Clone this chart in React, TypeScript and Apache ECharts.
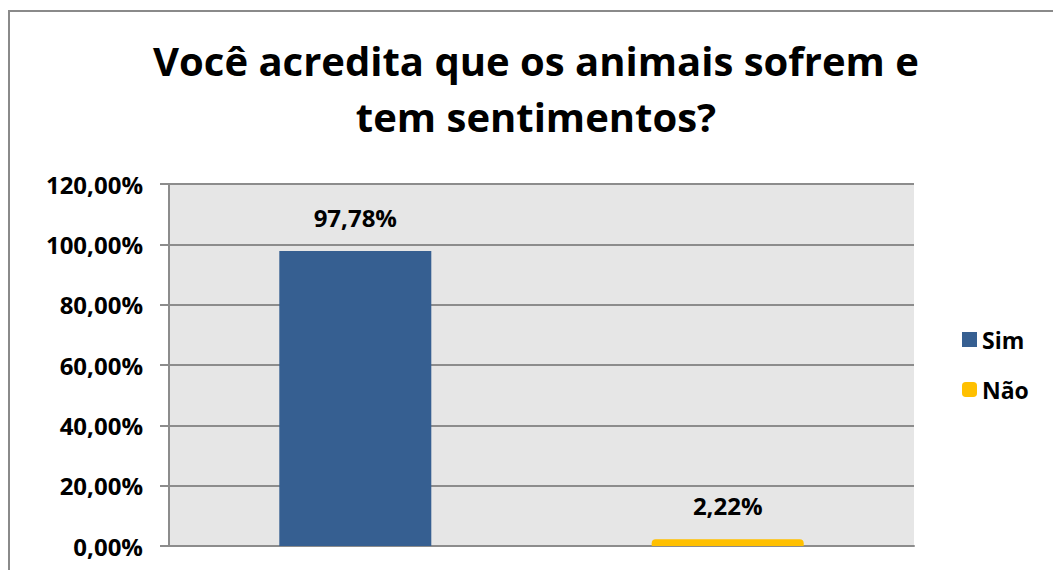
import React, { useEffect, useRef } from "react";
import * as echarts from "echarts";

const titleLines = ["Você acredita que os animais sofrem e", "tem sentimentos?"];
const categories = [""];
const seriesNames = ["Sim", "Não"];
const seriesValues = [97.78, 2.22];
const seriesColors = ["#365f91", "#ffc000"];
const yTicks = { min: 0, max: 120, interval: 20 };

const fmt = (v: number) => v.toFixed(2).replace(".", ",") + "%";

export default function App() {
  const ref = useRef<HTMLDivElement>(null);
  useEffect(() => {
    if (!ref.current) return;
    const chart = echarts.init(ref.current, null, { renderer: "svg" });
    const font = "'Open Sans', sans-serif";
    chart.setOption({
      animation: false,
      backgroundColor: "#ffffff",
      title: {
        text: titleLines.join("\n"),
        left: 531,
        top: 27,
        textAlign: "center",
        textStyle: { fontFamily: font, fontWeight: "bold", fontSize: 40, lineHeight: 56, color: "#000" },
      },
      graphic: [
        {
          type: "rect",
          shape: { x: 9, y: 11, width: 1100, height: 600 },
          style: { fill: "none", stroke: "#8a8a8a", lineWidth: 2 },
          z: 10,
        },
      ],
      legend: {
        orient: "vertical",
        left: 957,
        top: 323,
        itemWidth: 15,
        itemHeight: 15,
        itemGap: 27,
        textStyle: { fontFamily: font, fontWeight: "bold", fontSize: 23, color: "#000" },
        data: [
          { name: seriesNames[0], icon: "rect" },
          { name: seriesNames[1], icon: "roundRect" },
        ],
      },
      grid: {
        left: 169,
        right: 139,
        top: 184,
        bottom: 24,
        show: true,
        backgroundColor: "#e6e6e6",
        borderWidth: 0,
      },
      xAxis: {
        type: "category",
        data: categories,
        axisLine: { show: true, lineStyle: { color: "#8c8c8c", width: 2 } },
        axisTick: { show: false },
        axisLabel: { show: false },
      },
      yAxis: {
        type: "value",
        min: yTicks.min,
        max: yTicks.max,
        interval: yTicks.interval,
        axisLine: { show: true, lineStyle: { color: "#8c8c8c", width: 2 } },
        axisTick: { show: true, length: 9, lineStyle: { color: "#8c8c8c", width: 2 } },
        splitLine: { show: true, lineStyle: { color: "#8c8c8c", width: 2 } },
        axisLabel: {
          margin: 26,
          formatter: (v: number) => fmt(v),
          fontFamily: font,
          fontWeight: "bold",
          fontSize: 24,
          color: "#000",
        },
      },
      series: seriesNames.map((name, i) => ({
        name,
        type: "bar",
        data: [seriesValues[i]],
        barWidth: 152,
        barGap: "145%",
        itemStyle: { color: seriesColors[i], borderRadius: i === 1 ? [4, 4, 0, 0] : 0 },
        label: {
          show: true,
          position: "top",
          distance: 22,
          formatter: (p: any) => fmt(p.value),
          fontFamily: font,
          fontWeight: "bold",
          fontSize: 24,
          color: "#000",
        },
      })),
    });
    return () => chart.dispose();
  }, []);
  return (
    <div
      ref={ref}
      style={{ position: "fixed", left: 0, top: 0, width: 1053, height: 570 }}
    />
  );
}
